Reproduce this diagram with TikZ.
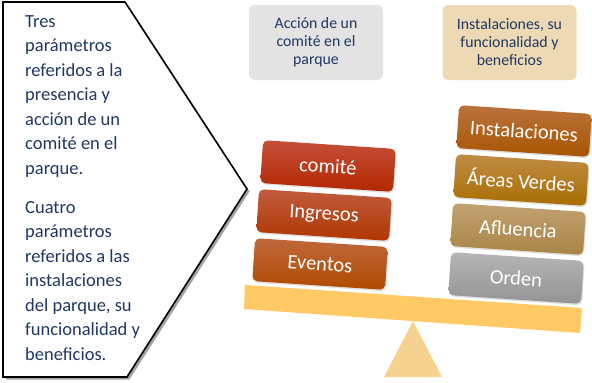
\documentclass[tikz,border=0pt]{standalone}
\usepackage{fontspec}
\setmainfont{Carlito}
\usetikzlibrary{shadows}

\definecolor{textblue}{HTML}{203864}
\definecolor{plank}{HTML}{FFC964}
\definecolor{fulcrum}{HTML}{F5D28D}
\definecolor{greyhead}{HTML}{E3E3E3}
\definecolor{tanhead}{HTML}{EDDAB4}
\definecolor{comiteA}{HTML}{C5503A}
\definecolor{comiteB}{HTML}{B22800}
\definecolor{ingresosA}{HTML}{C05C3E}
\definecolor{ingresosB}{HTML}{B03600}
\definecolor{eventosA}{HTML}{C0683C}
\definecolor{eventosB}{HTML}{B04A00}
\definecolor{instalA}{HTML}{BA733E}
\definecolor{instalB}{HTML}{A85600}
\definecolor{areasA}{HTML}{C08C46}
\definecolor{areasB}{HTML}{A86E00}
\definecolor{afluA}{HTML}{C2A272}
\definecolor{afluB}{HTML}{A88446}
\definecolor{ordenA}{HTML}{B6B6B6}
\definecolor{ordenB}{HTML}{939393}

\hyphenpenalty=10000
\exhyphenpenalty=10000

\begin{document}
\begin{tikzpicture}[
	x = 1pt, y = -1pt,
	para/.style = {anchor = north west, inner sep = 0pt, text width = 118pt, align = flush left,
		text = textblue, font = \fontsize{18.5}{24.5}\selectfont},
	header/.style = {rectangle, rounded corners = 6pt, minimum width = 134pt, minimum height = 75pt,
		inner sep = 0pt, align = center, text = textblue, font = \fontsize{15.8}{18}\selectfont},
	weight/.style = {rectangle, rounded corners = 5pt, minimum width = 133pt, minimum height = 43pt,
		inner sep = 0pt, rotate = -3.8, text = white, font = \fontsize{20.5}{24}\selectfont,
		drop shadow = {shadow xshift = 1pt, shadow yshift = -1.5pt, opacity = 0.25}},
	tone/.style = {top color = #1A, bottom color = #1B}
]
\useasboundingbox (0,0) rectangle (592,383);

% pentagon arrow with the two paragraphs
\draw[line width = 1.6pt, fill = white,
	drop shadow = {shadow xshift = 2.5pt, shadow yshift = -2.5pt, fill = black!45, opacity = 0.8}]
	(3,2) -- (125,2) -- (247,189) -- (127,377) -- (3,377) -- cycle;
\node[para] (tres) at (25,15) {Tres parámetros referidos a la presencia y acción de un comité en el parque.};
\node[para] (cuatro) at (25,201) {Cuatro parámetros referidos a las instalaciones del parque, su funcionalidad y beneficios.};

% headers
\node[header, fill = greyhead] (accion) at (316,42.5) {Acción de un\\comité en el\\parque};
\node[header, fill = tanhead] (instal) at (509.5,42.5) {Instalaciones, su\\funcionalidad y\\beneficios};

% balance
\fill[fulcrum] (413,321) -- (442,377) -- (384,377) -- cycle;
\fill[plank] (245,285) -- (582,308) -- (580,333) -- (244,309) -- cycle;

% left pan
\node[weight, tone = comite] (comite) at (328,166) {comité};
\node[weight, tone = ingresos] (ingresos) at (324,215) {Ingresos};
\node[weight, tone = eventos] (eventos) at (320,264) {Eventos};

% right pan
\node[weight, tone = instal] (instalaciones) at (524,131) {Instalaciones};
\node[weight, tone = areas] (areas) at (521,180) {Áreas Verdes};
\node[weight, tone = aflu] (afluencia) at (518,229) {Afluencia};
\node[weight, tone = orden] (orden) at (516,278) {Orden};
\end{tikzpicture}
\end{document}
